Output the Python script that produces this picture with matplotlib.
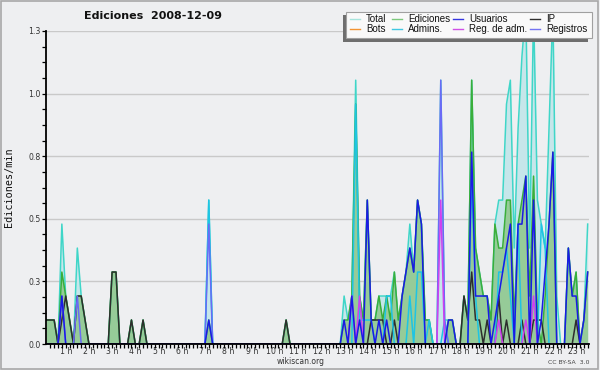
import numpy as np
import matplotlib
matplotlib.use("Agg")
import matplotlib.pyplot as plt
from matplotlib.lines import Line2D
from matplotlib.patches import Rectangle

# ediciones por bloque de 10 minutos (0 h .. 23 h 20)
total = [1,1,1,0,5,2, 1,0,4,2,1,0, 0,0,0,0,0,3, 3,0,0,0,1,0,
         0,1,0,0,0,0, 0,0,0,0,0,0, 0,0,0,0,0,0, 6,0,0,0,0,0,
         0,0,0,0,0,0, 0,0,0,0,0,0, 0,0,1,0,0,0, 0,0,0,0,0,0,
         0,0,0,0,0,2, 1,2,11,2,1,6, 1,1,2,2,2,2, 3,1,2,3,5,3,
         6,5,1,1,0,0, 11,1,1,1,0,0, 2,1,11,4,3,2, 2,1,5,6,6,10,
         11,4,9,12,14,4, 14,6,5,4,9,14, 2,0,0,4,2,3, 0,1,5]
ediciones = [1,1,1,0,3,2, 1,0,2,2,1,0, 0,0,0,0,0,3, 3,0,0,0,1,0,
             0,1,0,0,0,0, 0,0,0,0,0,0, 0,0,0,0,0,0, 1,0,0,0,0,0,
             0,0,0,0,0,0, 0,0,0,0,0,0, 0,0,1,0,0,0, 0,0,0,0,0,0,
             0,0,0,0,0,1, 1,2,10,2,1,6, 1,1,2,1,2,1, 3,1,2,3,4,3,
             6,5,1,1,0,0, 0,0,1,1,0,0, 2,1,11,4,3,2, 2,1,5,4,4,6,
             6,1,5,6,7,2, 7,1,0,2,5,8, 0,0,0,4,2,3, 0,1,3]
usuarios = [0,0,0,0,2,0, 0,0,0,0,0,0, 0,0,0,0,0,0, 0,0,0,0,0,0,
            0,0,0,0,0,0, 0,0,0,0,0,0, 0,0,0,0,0,0, 1,0,0,0,0,0,
            0,0,0,0,0,0, 0,0,0,0,0,0, 0,0,0,0,0,0, 0,0,0,0,0,0,
            0,0,0,0,0,1, 0,2,0,1,0,6, 1,0,1,0,1,0, 0,0,2,3,4,3,
            6,5,0,0,0,0, 0,0,1,1,0,0, 0,0,8,2,2,2, 2,0,1,2,3,4,
            5,0,5,5,7,0, 6,0,1,3,5,8, 0,0,0,4,2,2, 0,1,3]
ip = [1,1,1,0,1,2, 1,0,2,2,1,0, 0,0,0,0,0,3, 3,0,0,0,1,0,
      0,1,0,0,0,0, 0,0,0,0,0,0, 0,0,0,0,0,0, 0,0,0,0,0,0,
      0,0,0,0,0,0, 0,0,0,0,0,0, 0,0,1,0,0,0, 0,0,0,0,0,0,
      0,0,0,0,0,0, 0,0,0,0,0,0, 1,1,1,1,0,0, 1,0,0,0,0,0,
      0,0,0,0,0,0, 0,0,0,0,0,0, 2,1,3,1,1,0, 1,0,0,2,0,1,
      0,0,0,1,0,0, 1,1,1,0,0,0, 0,0,0,0,0,1, 0,0,0]
admins = [0,0,0,0,0,0, 0,0,0,0,0,0, 0,0,0,0,0,0, 0,0,0,0,0,0,
          0,0,0,0,0,0, 0,0,0,0,0,0, 0,0,0,0,0,0, 6,0,0,0,0,0,
          0,0,0,0,0,0, 0,0,0,0,0,0, 0,0,0,0,0,0, 0,0,0,0,0,0,
          0,0,0,0,0,0, 0,0,10,1,1,1, 1,0,0,0,2,2, 0,0,0,0,2,0,
          3,3,0,1,0,0, 0,1,0,0,0,0, 0,0,7,2,0,0, 0,0,0,3,3,4,
          2,0,5,0,0,0, 0,0,5,4,0,0, 0,0,0,0,0,0, 0,0,0]
reg_adm = [0,0,0,0,0,0, 0,0,0,0,0,0, 0,0,0,0,0,0, 0,0,0,0,0,0,
           0,0,0,0,0,0, 0,0,0,0,0,0, 0,0,0,0,0,0, 0,0,0,0,0,0,
           0,0,0,0,0,0, 0,0,0,0,0,0, 0,0,0,0,0,0, 0,0,0,0,0,0,
           0,0,0,0,0,0, 0,2,0,2,0,0, 0,0,0,0,0,0, 0,0,0,0,0,0,
           0,0,0,0,0,0, 6,0,0,0,0,0, 0,0,0,0,0,0, 0,0,0,1,0,0,
           0,0,0,0,1,0, 2,0,0,0,0,0, 0,0,0,0,0,0, 0,0,0]
registros = [0,0,0,0,2,0, 0,0,2,0,0,0, 0,0,0,0,0,0, 0,0,0,0,0,0,
             0,0,0,0,0,0, 0,0,0,0,0,0, 0,0,0,0,0,0, 5,0,0,0,0,0,
             0,0,0,0,0,0, 0,0,0,0,0,0, 0,0,0,0,0,0, 0,0,0,0,0,0,
             0,0,0,0,0,0, 0,0,0,0,0,0, 0,0,0,0,0,0, 0,0,0,0,0,0,
             0,0,0,0,0,0, 11,1,0,0,0,0, 0,0,0,0,0,0, 0,0,0,0,0,0,
             0,0,0,0,0,0, 0,0,0,0,0,0, 0,0,0,0,0,0, 0,0,0]

bin_min = 10.44  # ediciones del bloque -> ediciones/min (escala del eje)
horas = [f"{h} h" for h in range(1, 24)]
y_labels = ["0.0", "0.3", "0.5", "0.8", "1.0", "1.3"]

t = np.arange(len(total)) / 6.0

def em(v):
    return np.array(v) / bin_min

bg = '#eeeff1'
fig = plt.figure(figsize=(6, 3.7), dpi=100, facecolor=bg)
ax = fig.add_axes([46/600, 26/370, 543/600, 313/370])
ax.set_facecolor(bg)
ax.set_xlim(-0.017, 23.39)
ax.set_ylim(0, 1.25)

for y in np.arange(0.25, 1.26, 0.25):
    ax.axhline(y, color='#c9c9c9', lw=1.0, zorder=0.5)

ax.fill_between(t, em(total), color='#c6e6ea', lw=0, zorder=1)
ax.fill_between(t, em(ediciones), color='#96cb98', lw=0, zorder=1.1)

series = [
    (total, '#3fd6c8'),
    (ediciones, '#3aae3a'),
    (ip, '#2e2e2e'),
    (admins, '#1ec4e4'),
    (registros, '#6a6af6'),
    (reg_adm, '#d040f0'),
    (usuarios, '#1a1ae6'),
]
for i, (vals, col) in enumerate(series):
    ax.plot(t, em(vals), color=col, lw=1.1, zorder=2 + i * 0.1)

for s in ['top', 'right']:
    ax.spines[s].set_visible(False)
for s in ['left', 'bottom']:
    ax.spines[s].set_linewidth(1.3)
    ax.spines[s].set_zorder(5)

ax.set_xticks(np.arange(1, 24) - 0.15)
ax.set_xticklabels(horas, fontsize=5.6, color='#333333')
ax.set_xticks(np.arange(1, len(total)) / 6.0, minor=True)
ax.tick_params(axis='x', which='major', length=0, pad=2.5)
ax.tick_params(axis='x', which='minor', length=3, width=0.9, direction='out')

ax.set_yticks(np.arange(0, 1.26, 0.25))
ax.set_yticklabels(y_labels, fontsize=5.6, color='#333333')
ax.set_yticks(np.arange(0, 1.26, 0.0625), minor=True)
ax.tick_params(axis='y', which='both', length=3, width=0.9, direction='out', pad=1)

def fx(x):
    return x / 600

def fy(y):
    return 1 - y / 370

fig.text(fx(153.5), fy(16), "Ediciones  2008-12-09", fontsize=8, fontweight='bold',
         ha='center', va='center', color='#111111')
fig.text(fx(9), fy(187), "Ediciones/min", fontsize=7.3, family='DejaVu Sans Mono',
         rotation=90, ha='center', va='center', color='#111111')
fig.text(fx(301), fy(361), "wikiscan.org", fontsize=5.5, ha='center', va='center', color='#333333')
fig.text(fx(590), fy(362), "CC BY-SA  3.0", fontsize=4.4, ha='right', va='center', color='#444444')

# leyenda dibujada a mano, con sombra
fig.patches.append(Rectangle((fx(343), fy(41.5)), fx(245), 26.5/370, transform=fig.transFigure,
                             facecolor='#6e6e6e', edgecolor='none', zorder=10))
fig.patches.append(Rectangle((fx(346), fy(38.3)), fx(246), 26.6/370, transform=fig.transFigure,
                             facecolor='#f9f9f9', edgecolor='#a0a0a0', lw=0.8, zorder=11))
leyenda = [
    ("Total", '#a6e4dc', 350, 19), ("Ediciones", '#7cc87c', 392, 19),
    ("Usuarios", '#3636e0', 453, 19), ("IP", '#303030', 530, 19),
    ("Bots", '#f39432', 350, 29), ("Admins.", '#40c8e2', 392, 29),
    ("Reg. de adm.", '#d050e6', 453, 29), ("Registros", '#7474f2', 530, 29),
]
for nombre, col, x0, y0 in leyenda:
    fig.lines.append(Line2D([fx(x0), fx(x0 + 10)], [fy(y0), fy(y0)], transform=fig.transFigure,
                            color=col, lw=1.0, zorder=12))
    fig.text(fx(x0 + 16), fy(y0), nombre, fontsize=7, family='Liberation Sans',
             ha='left', va='center', color='#111111', zorder=12)

# marco gris alrededor de la imagen
fig.patches.append(Rectangle((fx(0.8), 1.5/370), fx(597.6), 367.6/370, transform=fig.transFigure,
                             facecolor='none', edgecolor='#a8a8a8', lw=1.2, zorder=20))

fig.savefig("out.png", dpi=100, facecolor=bg)
